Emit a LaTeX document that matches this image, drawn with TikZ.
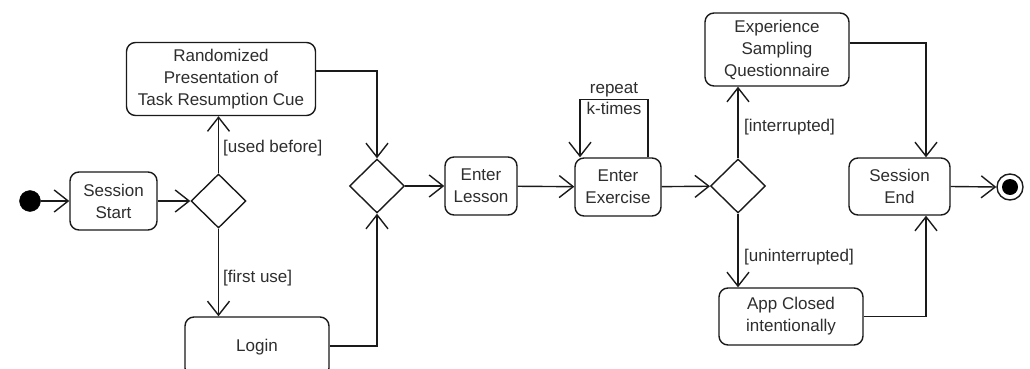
\documentclass[tikz,border=0pt]{standalone}
\usepackage{fontspec}
\setmainfont{Liberation Sans}
\usetikzlibrary{shapes.geometric,arrows.meta}
\definecolor{txt}{HTML}{2E2E2E}
\definecolor{ln}{HTML}{1A1A1A}
\tikzset{
  act/.style={draw=ln, line width=1.4pt, rounded corners=9pt, align=center, inner sep=0pt,
    text=txt, font=\fontsize{17}{22}\selectfont},
  dec/.style={draw=ln, line width=1.4pt, diamond, inner sep=0pt, minimum width=55pt, minimum height=54pt},
  openv/.tip={Straight Barb[length=14pt,width=22pt,sharp]},
  arr/.style={draw=ln, line width=1.4pt, -openv},
  guard/.style={anchor=west, inner sep=0pt, text=txt, font=\fontsize{17}{22}\selectfont},
}
\begin{document}
\begin{tikzpicture}[x=1pt,y=-1pt]
\useasboundingbox[fill=white] (0,0) rectangle (1030,369);
% nodes
\node[circle, fill=black, draw=black, minimum size=21pt, inner sep=0pt] (start) at (30,201) {};
\node[act, minimum width=87pt, minimum height=58pt] (ss) at (113.5,201) {Session\\Start};
\node[dec] (d1) at (218.5,201) {};
\node[act, minimum width=189pt, minimum height=73pt] (rand) at (221,79) {Randomized\\Presentation of\\Task Resumption Cue};
\node[act, minimum width=144pt, minimum height=60pt] (login) at (257,347) {Login};
\node[dec] (d2) at (377,186) {};
\node[act, minimum width=72pt, minimum height=58pt] (lesson) at (481,186) {Enter\\Lesson};
\node[act, minimum width=86pt, minimum height=58pt] (exer) at (618,187) {Enter\\Exercise};
\node[dec] (d3) at (738,186) {};
\node[act, minimum width=144pt, minimum height=73pt] (esq) at (777,49.5) {Experience\\Sampling\\Questionnaire};
\node[act, minimum width=144pt, minimum height=57pt] (app) at (791,316.5) {App Closed\\intentionally};
\node[act, minimum width=101pt, minimum height=57pt] (send) at (899.5,186.5) {Session\\End};
\node[circle, draw=ln, line width=1.4pt, minimum size=26pt, inner sep=0pt] (end) at (1010,187) {};
\fill[black] (end.center) circle[radius=8pt];
% labels
\node[guard] (gub) at (223,148) {[used before]};
\node[guard] (gfu) at (223,278) {[first use]};
\node[guard] (gin) at (744,127) {[interrupted]};
\node[guard] (gun) at (744,257) {[uninterrupted]};
\node[align=center, inner sep=0pt, text=txt, font=\fontsize{17}{21}\selectfont] (rep) at (614,98.5) {repeat\\k-times};
% connectors
\draw[arr] (start) -- (ss.west);
\draw[arr] (ss) -- (d1);
\draw[arr] (d1.north) -- (d1.north |- rand.south);
\draw[arr] (d1.south) -- (d1.south |- login.north);
\draw[arr] ([yshift=8pt]rand.east) -| (d2.north);
\draw[arr] ([yshift=1pt]login.east) -| (d2.south);
\draw[arr] (d2) -- (lesson);
\draw[arr] (lesson) -- (exer);
\draw[arr] (exer) -- (d3);
\draw[arr] ([xshift=30pt]exer.north) -- ++(0,-58) -| ([xshift=-38pt]exer.north);
\draw[arr] (d3.north) -- (d3.north |- esq.south);
\draw[arr] (d3.south) -- (d3.south |- app.north);
\draw[arr] ([yshift=6.5pt]esq.east) -| ([xshift=26.5pt]send.north);
\draw[arr] (app.east) -| ([xshift=26.5pt]send.south);
\draw[arr] (send.east) -- (end.west);
\end{tikzpicture}
\end{document}
